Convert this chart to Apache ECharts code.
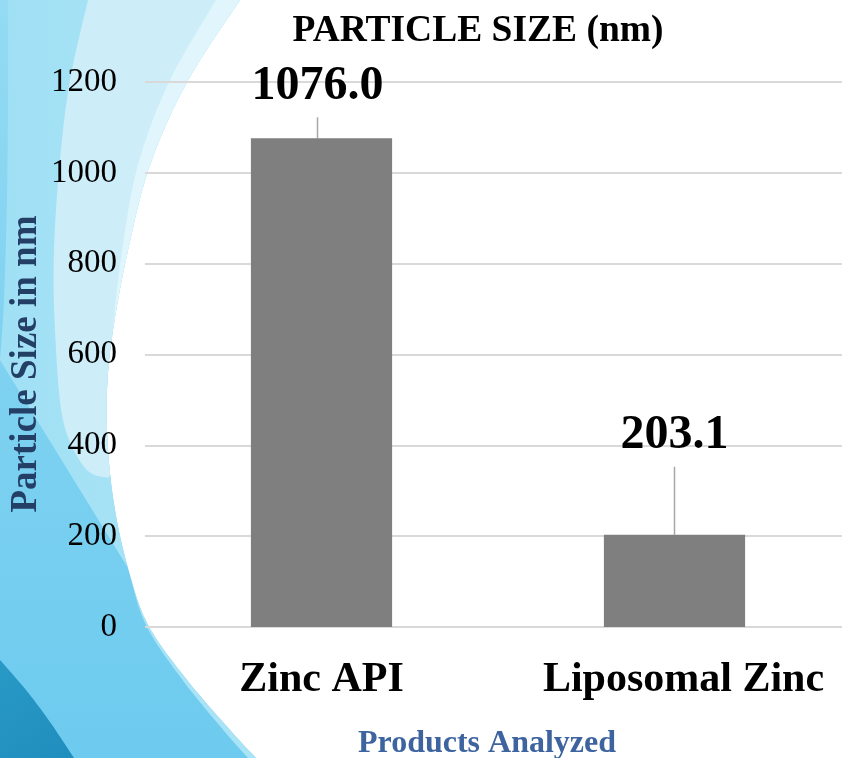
<!DOCTYPE html>
<html>
<head>
<meta charset="utf-8">
<title>Particle Size (nm)</title>
<script src="https://cdn.jsdelivr.net/npm/echarts@6/dist/echarts.min.js"></script>
<style>
  html, body { margin: 0; padding: 0; background: #ffffff; }
  #chart { width: 842px; height: 758px; }
</style>
</head>
<body>
<div id="chart"></div>
<script>
// ---- data ----
const categories = ['Zinc API', 'Liposomal Zinc'];
const particleSize = [1076.0, 203.1];
const yTickValues = [0, 200, 400, 600, 800, 1000, 1200];

// ---- text ----
const chartTitle = 'PARTICLE SIZE (nm)';
const yTitle = 'Particle Size in nm';
const xTitle = 'Products Analyzed';

// ---- styling ----
const SERIF = "'Liberation Serif', 'Times New Roman', Times, serif";
const labelLift = [21, 68];     // how far each value label sits above its bar
const labelShiftX = [-4, 0];

function linear(x2, y2, stops) {
  return {
    type: 'linear', x: 0, y: 0, x2: x2, y2: y2,
    colorStops: stops.map(([offset, color]) => ({ offset, color }))
  };
}

// Smooth a list of control points with a Catmull-Rom spline.
function spline(pts, steps) {
  const out = [];
  for (let i = 0; i < pts.length - 1; i++) {
    const p0 = pts[Math.max(i - 1, 0)], p1 = pts[i], p2 = pts[i + 1], p3 = pts[Math.min(i + 2, pts.length - 1)];
    for (let s = 0; s < steps; s++) {
      const t = s / steps, t2 = t * t, t3 = t2 * t;
      out.push([0, 1].map((k) => 0.5 * (2 * p1[k] + (-p0[k] + p2[k]) * t +
        (2 * p0[k] - 5 * p1[k] + 4 * p2[k] - p3[k]) * t2 +
        (-p0[k] + 3 * p1[k] - 3 * p2[k] + p3[k]) * t3)));
    }
  }
  out.push(pts[pts.length - 1].slice());
  return out;
}

// left edge of the white area, from the top down to the bottom
const whiteEdge = spline([
  [240, 0], [187, 82], [150, 165], [128, 250], [113, 330], [107, 390], [108, 450],
  [115, 510], [128, 568], [148, 625], [187, 680], [230, 730], [256, 758]
], 12);
const edgeUntil = (yMax) => whiteEdge.filter((p) => p[1] <= yMax);

const lightCyanBack = spline([[108, 478], [85, 468], [63, 420], [55, 330], [54, 250], [60, 160], [70, 80], [88, 0]], 10);
const paleBandBack = spline([[0, 360], [4, 300], [7, 200], [8, 100], [8, 0]], 8);
const darkCorner = spline([[0, 660], [26, 690], [50, 722], [74, 758]], 10);

const chart = echarts.init(document.getElementById('chart'), null, { renderer: 'canvas' });

// decorative blue swoosh on the left
const swoosh = [
  {
    // base blue, everything left of the white area
    type: 'polygon', z: -20, silent: true,
    shape: { points: whiteEdge.concat([[0, 758], [0, 0]]) },
    style: { fill: linear(0, 1, [[0, '#94dbf3'], [0.45, '#80d2f1'], [1, '#6dcbef']]) }
  },
  {
    // paler diagonal band
    type: 'polygon', z: -19, silent: true,
    shape: { points: edgeUntil(568).concat(paleBandBack) },
    style: { fill: linear(1, 0, [[0, '#a0e0f5'], [1, '#ace4f6']]) }
  },
  {
    // light cyan wedge
    type: 'polygon', z: -18, silent: true,
    shape: { points: edgeUntil(478).concat(lightCyanBack) },
    style: { fill: '#cdeef9' }
  },
  {
    // soft highlight next to the white area
    type: 'polygon', z: -17, silent: true,
    shape: {
      points: edgeUntil(330).concat(
        edgeUntil(330).reverse().map(([x, y]) => [x - 24 * (1 - y / 330), y])
      )
    },
    style: { fill: '#e0f5fc' }
  },
  {
    // faint bright rim along the lower arc
    type: 'polygon', z: -17, silent: true,
    shape: {
      points: whiteEdge.filter((p) => p[1] >= 580).concat(
        whiteEdge.filter((p) => p[1] >= 580).reverse().map(([x, y]) => [x - 8 * ((y - 580) / 178), y])
      )
    },
    style: { fill: '#a8e3f6' }
  },
  {
    type: 'polygon', z: -16, silent: true,
    shape: { points: darkCorner.concat([[0, 758]]) },
    style: { fill: linear(1, 1, [[0, '#2999c6'], [1, '#1f8ebe']]) }
  }
];

const categoryText = { fontFamily: SERIF, fontSize: 42, fontWeight: 'bold', color: '#000000' };

const option = {
  backgroundColor: '#ffffff',
  animation: false,
  title: [
    {
      text: chartTitle,
      left: 473, top: 7, textAlign: 'center',
      textStyle: { fontFamily: SERIF, fontSize: 37.5, fontWeight: 'bold', color: '#000000' }
    },
    {
      text: xTitle,
      left: 482, top: 723, textAlign: 'center',
      textStyle: { fontFamily: SERIF, fontSize: 32, fontWeight: 'bold', color: '#3e64a0' }
    }
  ],
  graphic: swoosh.concat([
    {
      type: 'text', z: 10, silent: true,
      x: 26, y: 364, rotation: Math.PI / 2,
      style: {
        text: yTitle, fill: '#243f66',
        font: 'bold 37px ' + SERIF,
        align: 'center', verticalAlign: 'middle'
      }
    }
  ]),
  grid: { left: 145, right: -9, top: 82, bottom: 131, outerBoundsMode: 'none', containLabel: false },
  xAxis: {
    type: 'category',
    data: categories,
    axisLine: { show: false },
    axisTick: { show: false },
    axisLabel: Object.assign({
      interval: 0,
      hideOverlap: false,
      margin: 32,
      formatter: (v, i) => (i === 1 ? '{shifted|' + v + '}' : v),
      rich: { shifted: Object.assign({ padding: [0, 0, 0, 18] }, categoryText) }
    }, categoryText)
  },
  yAxis: {
    type: 'value',
    min: yTickValues[0],
    max: yTickValues[yTickValues.length - 1],
    interval: yTickValues[1] - yTickValues[0],
    axisLine: { show: false },
    axisTick: { show: false },
    axisLabel: {
      margin: 28,
      formatter: (v) => String(v),
      fontFamily: SERIF, fontSize: 33, color: '#000000'
    },
    splitLine: { lineStyle: { color: '#d9d9d9', width: 2 } }
  },
  series: [
    {
      type: 'bar',
      data: particleSize,
      barWidth: '40%',
      itemStyle: { color: '#7f7f7f' },
      label: {
        show: true,
        position: 'top',
        distance: 0,
        lineHeight: 62,
        formatter: (p) => p.value.toFixed(1),
        fontFamily: SERIF, fontSize: 48, fontWeight: 'bold', color: '#000000'
      },
      labelLayout: (p) => ({ dx: labelShiftX[p.dataIndex], dy: -labelLift[p.dataIndex] }),
      labelLine: { show: true, lineStyle: { color: '#a6a6a6', width: 1.5 } }
    }
  ]
};

chart.setOption(option);
</script>
</body>
</html>
